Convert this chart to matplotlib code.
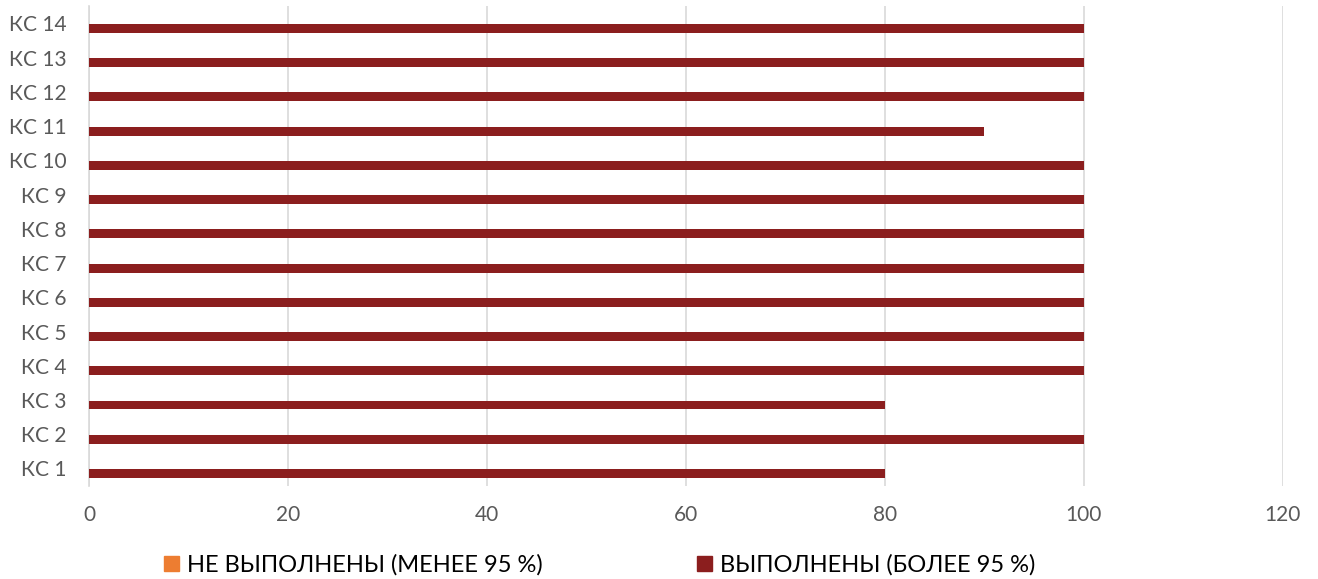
import matplotlib.pyplot as plt
import numpy as np
from matplotlib.patches import Patch

categories = ["КС 1", "КС 2", "КС 3", "КС 4", "КС 5", "КС 6", "КС 7",
              "КС 8", "КС 9", "КС 10", "КС 11", "КС 12", "КС 13", "КС 14"]
not_done = [0, 0, 0, 0, 0, 0, 0, 0, 0, 0, 0, 0, 0, 0]
done = [80, 100, 80, 100, 100, 100, 100, 100, 100, 100, 90, 100, 100, 100]
x_ticks = [0, 20, 40, 60, 80, 100, 120]

label_not_done = "НЕ ВЫПОЛНЕНЫ (МЕНЕЕ 95 %)"
label_done = "ВЫПОЛНЕНЫ (БОЛЕЕ 95 %)"

plt.rcParams['font.family'] = ['Lato', 'DejaVu Sans']

fig = plt.figure(figsize=(13.18, 5.79), dpi=100)
ax = fig.add_axes([0.0675, 0.1613, 0.9059, 0.8277])

y = np.arange(len(categories))
h = 0.26
ax.barh(y + 0.145, not_done, height=h, color="#ED7D31", zorder=3)
ax.barh(y - 0.145, done, height=h, color="#8B1E1E", zorder=3)

ax.set_xlim(0, 120)
ax.set_ylim(-0.5, len(categories) - 0.5)
ax.set_xticks(x_ticks)
ax.set_yticks(y)
ax.set_yticklabels(categories)
ax.grid(axis="x", color="#D9D9D9", linewidth=1.2, zorder=0)
for s in ["top", "right", "bottom"]:
    ax.spines[s].set_visible(False)
ax.spines["left"].set_color("#D9D9D9")
ax.spines["left"].set_linewidth(1.2)
ax.tick_params(axis="both", length=0, labelsize=15, labelcolor="#595959")
ax.tick_params(axis="x", pad=14)
ax.tick_params(axis="y", pad=16)

handles = [Patch(color="#ED7D31"), Patch(color="#8B1E1E")]
fig.legend(handles, [label_not_done, label_done], loc="center",
           bbox_to_anchor=(0.455, 0.024), ncol=2, frameon=False,
           fontsize=17, handlelength=0.65, handleheight=0.65,
           handletextpad=0.35, columnspacing=6.5)

fig.savefig("out.png", dpi=100)
